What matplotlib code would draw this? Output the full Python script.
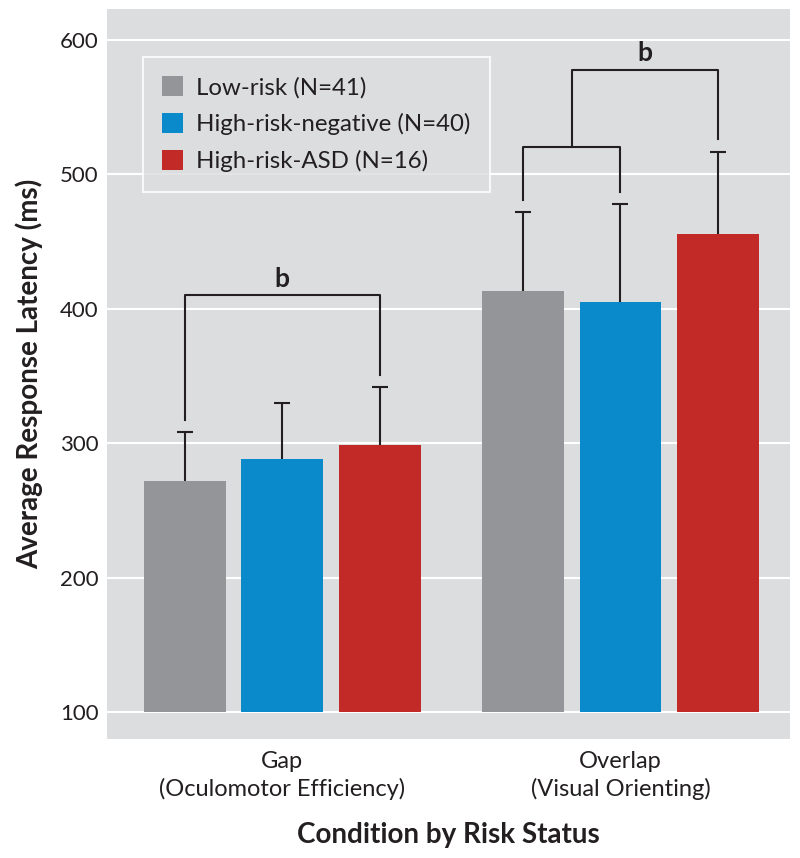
import matplotlib.pyplot as plt
import numpy as np

plt.rcParams['font.family'] = ['Lato', 'DejaVu Sans']

# values (ms)
conditions = ['Gap\n(Oculomotor Efficiency)', 'Overlap\n(Visual Orienting)']
groups = ['Low-risk (N=41)', 'High-risk-negative (N=40)', 'High-risk-ASD (N=16)']
colors = ['#939598', '#0a8acb', '#c12a27']
low_risk = [272, 413]
high_risk_neg = [288, 405]
high_risk_asd = [299, 456]
low_risk_err = [36, 59]
high_risk_neg_err = [42, 73]
high_risk_asd_err = [43, 61]

# significance brackets: (left bar, right bar, height)
gap_bracket = (0, 2, 410)
overlap_inner = (0, 1, 520)
overlap_outer_y = 578

base = 100
ink = '#231f20'
bg = '#dcdddf'

fig = plt.figure(figsize=(8, 8.58), dpi=100)
ax = fig.add_axes([0.134, 0.1387, 0.8535, 0.8508])
ax.set_facecolor(bg)

x = np.arange(len(conditions))
step = 0.288
width = 0.242
means = [low_risk, high_risk_neg, high_risk_asd]
errs = [low_risk_err, high_risk_neg_err, high_risk_asd_err]

centers = []
for i, (m, e, c, lab) in enumerate(zip(means, errs, colors, groups)):
    pos = x + (i - 1) * step
    centers.append(pos)
    heights = np.array(m) - base
    ax.bar(pos, heights, width, bottom=base, color=c, label=lab, zorder=3)
    eb = ax.errorbar(pos, m, yerr=[np.zeros(len(e)), e], fmt='none', ecolor=ink,
                     elinewidth=1.5, capsize=5.5, capthick=1.5, zorder=2)
    # one-sided bars: drop the lower cap
    eb[1][0].set_visible(False)

tops = [[m + e for m, e in zip(mm, ee)] for mm, ee in zip(means, errs)]
gap_lo = 9
lw = 1.5

# Gap bracket
a, b, h = gap_bracket
xa, xb = centers[a][0], centers[b][0]
ax.plot([xa, xa, xb, xb], [tops[a][0] + gap_lo, h, h, tops[b][0] + gap_lo],
        color=ink, lw=lw, zorder=4)
ax.text((xa + xb) / 2, h + 3, 'b', ha='center', va='bottom', fontsize=19,
        fontweight='bold', color=ink)

# Overlap brackets
a, b, h = overlap_inner
xa, xb = centers[a][1], centers[b][1]
ax.plot([xa, xa, xb, xb], [tops[a][1] + gap_lo, h, h, tops[b][1] + gap_lo],
        color=ink, lw=lw, zorder=4)
xm = (xa + xb) / 2
xr = centers[2][1]
ax.plot([xm, xm, xr, xr], [h, overlap_outer_y, overlap_outer_y, tops[2][1] + gap_lo],
        color=ink, lw=lw, zorder=4)
ax.text((xm + xr) / 2, overlap_outer_y + 3, 'b', ha='center', va='bottom',
        fontsize=19, fontweight='bold', color=ink)

ax.set_xlim(-0.517, 1.501)
ax.set_ylim(80, 623)
ax.set_yticks(range(100, 601, 100))
ax.grid(axis='y', color='white', lw=1.5, zorder=1)
ax.set_axisbelow(True)
for s in ax.spines.values():
    s.set_visible(False)
ax.tick_params(length=0, colors=ink)
ax.tick_params(axis='y', pad=6, labelsize=16)
ax.tick_params(axis='x', pad=9, labelsize=17)
ax.set_xticks(x)
ax.set_xticklabels(conditions, linespacing=1.3)

ax.set_ylabel('Average Response Latency (ms)', fontsize=20, fontweight='bold',
              color=ink, labelpad=12)
ax.set_xlabel('Condition by Risk Status', fontsize=20, fontweight='bold',
              color=ink, labelpad=16)

leg = ax.legend(loc='upper left', bbox_to_anchor=(0.0527, 0.934), borderaxespad=0,
                fontsize=17.3, frameon=True, fancybox=False, handlelength=0.85,
                handleheight=0.85, handletextpad=0.55, labelspacing=0.62,
                borderpad=0.8)
leg.get_frame().set_facecolor(bg)
leg.get_frame().set_edgecolor('white')
leg.get_frame().set_linewidth(1.5)
for t in leg.get_texts():
    t.set_color(ink)

fig.savefig('out.png', dpi=100)
